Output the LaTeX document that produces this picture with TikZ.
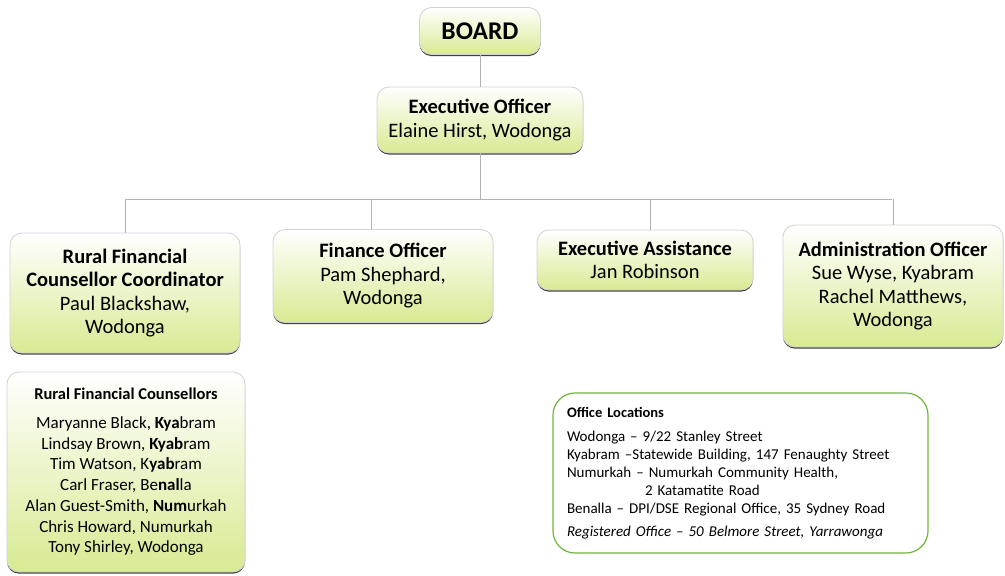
\documentclass[tikz,border=0pt]{standalone}
\usepackage{fontspec}
\setmainfont{Carlito}
\usetikzlibrary{shadows,positioning}
\definecolor{boxlime}{RGB}{216,234,146}
\definecolor{locgreen}{RGB}{112,182,60}
\tikzset{
  rolebox/.style={draw=gray!35, line width=0.8pt, rounded corners=12pt,
    top color=white, bottom color=boxlime, align=center, inner sep=2pt,
    drop shadow={shadow xshift=0pt, shadow yshift=-1.6pt, fill=black!75, opacity=1}},
  rolefont/.style={font=\fontsize{20.5}{23.5}\selectfont},
  conn/.style={draw=gray!60, line width=0.8pt},
}
\begin{document}
\begin{tikzpicture}[x=1pt,y=-1pt]
\useasboundingbox (0,0) rectangle (1005,576);
\node[rolebox, minimum width=121pt, minimum height=47pt, font=\bfseries\fontsize{25.5}{28}\selectfont] (board) at (480,31) {BOARD};
\node[rolebox, rolefont, minimum width=206pt, minimum height=66pt] (exec) at (480,120) {\textbf{Executive Officer}\\Elaine Hirst, Wodonga};
%============
\node[rolebox, rolefont, minimum width=230pt, minimum height=120pt] (coord) at (125,293) {\textbf{Rural Financial}\\\textbf{Counsellor Coordinator}\\Paul Blackshaw,\\Wodonga};
\node[rolebox, rolefont, minimum width=220pt, minimum height=93pt] (finance) at (383,276) {\textbf{Finance Officer}\\Pam Shephard,\\Wodonga};
\node[rolebox, rolefont, minimum width=216pt, minimum height=60pt] (assist) at (645,260) {\textbf{Executive Assistance}\\Jan Robinson};
\node[rolebox, rolefont, minimum width=220pt, minimum height=122pt] (admin) at (893,286) {\textbf{Administration Officer}\\Sue Wyse, Kyabram\\Rachel Matthews,\\Wodonga};
%============
\node[rolebox, font=\fontsize{17}{20.7}\selectfont, minimum width=238pt, minimum height=200pt] (counsellors) at (126,472) {{\bfseries\fontsize{16.5}{18}\selectfont Rural Financial Counsellors}\\[8pt]
  Maryanne Black, \textbf{Kya}bram\\
  Lindsay Brown, \textbf{Kyab}ram\\
  Tim Watson, K\textbf{yab}ram\\
  Carl Fraser, Be\textbf{nal}la\\
  Alan Guest-Smith, \textbf{Num}urkah\\
  Chris Howard, Numurkah\\
  Tony Shirley, Wodonga};
\node[draw=locgreen, line width=1.2pt, rounded corners=22pt, fill=white, align=left, text width=347pt, minimum height=160pt, inner xsep=14pt, font=\fontsize{15}{18}\selectfont] (offices) at (740.5,473) {{\bfseries\fontsize{14.5}{16}\selectfont Office Locations}\\[6pt]
  Wodonga -- 9/22 Stanley Street\\
  Kyabram --Statewide Building, 147 Fenaughty Street\\
  Numurkah -- Numurkah Community Health,\\
  \hspace*{78pt}2 Katamatite Road\\
  Benalla -- DPI/DSE Regional Office, 35 Sydney Road\\[5pt]
  \textit{Registered Office -- 50 Belmore Street, Yarrawonga}};
%==========
\coordinate (busL) at (125,199);
\coordinate (busR) at (892,199);
\draw[conn] (board) -- (exec);
\draw[conn] (exec.south) -- (exec.south |- busL);
\draw[conn] (busL) -- (busR);
\draw[conn] (coord.north) -- (coord.north |- busL);
\draw[conn] ([xshift=-12pt]finance.north) -- ([xshift=-12pt]finance.north |- busL);
\draw[conn] ([xshift=5pt]assist.north) -- ([xshift=5pt]assist.north |- busL);
\draw[conn] (admin.north) -- (admin.north |- busL);
\end{tikzpicture}
\end{document}
